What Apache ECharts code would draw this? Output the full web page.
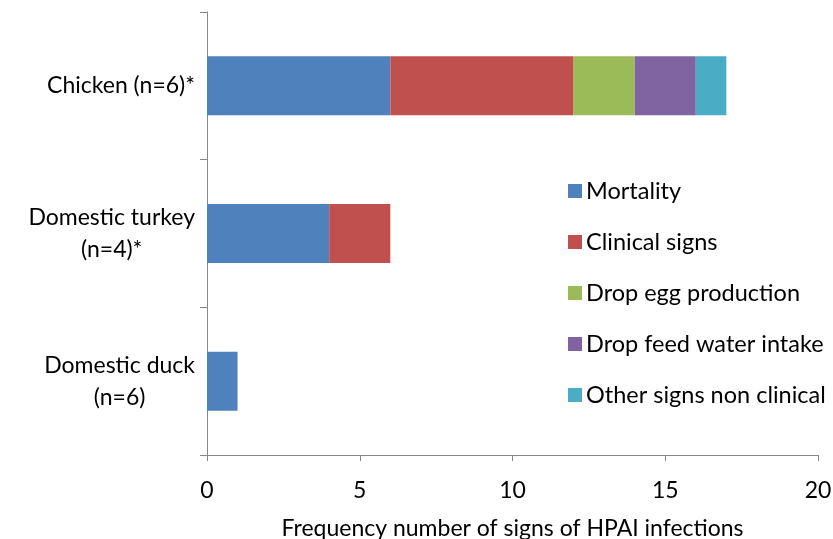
<!DOCTYPE html>
<html>
<head>
<meta charset="utf-8">
<script src="https://cdn.jsdelivr.net/npm/echarts@6/dist/echarts.min.js"></script>
<style>
  html, body { margin: 0; padding: 0; background: #fff; }
  #chart { width: 833px; height: 539px; }
</style>
</head>
<body>
<div id="chart"></div>
<script>
  // categories bottom -> top
  const categories = ['Domestic duck\n(n=6)', 'Domestic turkey\n(n=4)*', 'Chicken (n=6)*']
  const mortality = [1, 4, 6]
  const clinicalSigns = [0, 2, 6]
  const dropEgg = [0, 0, 2]
  const dropFeed = [0, 0, 2]
  const otherSigns = [0, 0, 1]
  const xTicks = [0, 5, 10, 15, 20]

  const seriesNames = ['Mortality', 'Clinical signs', 'Drop egg production', 'Drop feed water intake', 'Other signs non clinical']
  const seriesData = [mortality, clinicalSigns, dropEgg, dropFeed, otherSigns]
  const colors = ['#4f81bd', '#c0504d', '#9bbb59', '#8064a2', '#4bacc6']
  const font = 'Lato, "Open Sans", sans-serif'

  const chart = echarts.init(document.getElementById('chart'))
  chart.setOption({
    animation: false,
    textStyle: { fontFamily: font },
    grid: { left: 207, right: 15, top: 12, bottom: 84, containLabel: false, outerBoundsMode: 'none' },
    legend: {
      orient: 'vertical',
      left: 563,
      top: 174,
      itemWidth: 14,
      itemHeight: 14,
      itemGap: 27,
      icon: 'rect',
      data: seriesNames,
      textStyle: { fontSize: 23.5, color: '#000', fontFamily: font, padding: [0, 0, 0, -1] },
    },
    xAxis: {
      type: 'value',
      min: xTicks[0],
      max: xTicks[xTicks.length - 1],
      interval: 5,
      splitLine: { show: false },
      axisLine: { show: true, lineStyle: { color: '#888', width: 1 } },
      axisTick: { show: true, length: 6, lineStyle: { color: '#888' } },
      axisLabel: { fontSize: 23, color: '#000', margin: 24 },
      name: 'Frequency number of signs of HPAI infections',
      nameLocation: 'middle',
      nameGap: 62,
      nameTextStyle: { fontSize: 23, color: '#000' },
    },
    yAxis: {
      type: 'category',
      data: categories,
      axisLine: { show: true, lineStyle: { color: '#888', width: 1 } },
      axisTick: { show: true, length: 7, lineStyle: { color: '#888' } },
      axisLabel: {
        margin: 12,
        formatter: (v) => v.split('\n').map((s) => '{c|' + s + '}').join('\n'),
        rich: {
          c: { fontSize: 23, color: '#000', fontFamily: font, align: 'center', lineHeight: 32 },
        },
      },
    },
    series: seriesNames.map((name, i) => ({
      name: name,
      type: 'bar',
      stack: 'total',
      data: seriesData[i],
      barWidth: 59,
      itemStyle: { color: colors[i] },
    })),
  })
</script>
</body>
</html>
